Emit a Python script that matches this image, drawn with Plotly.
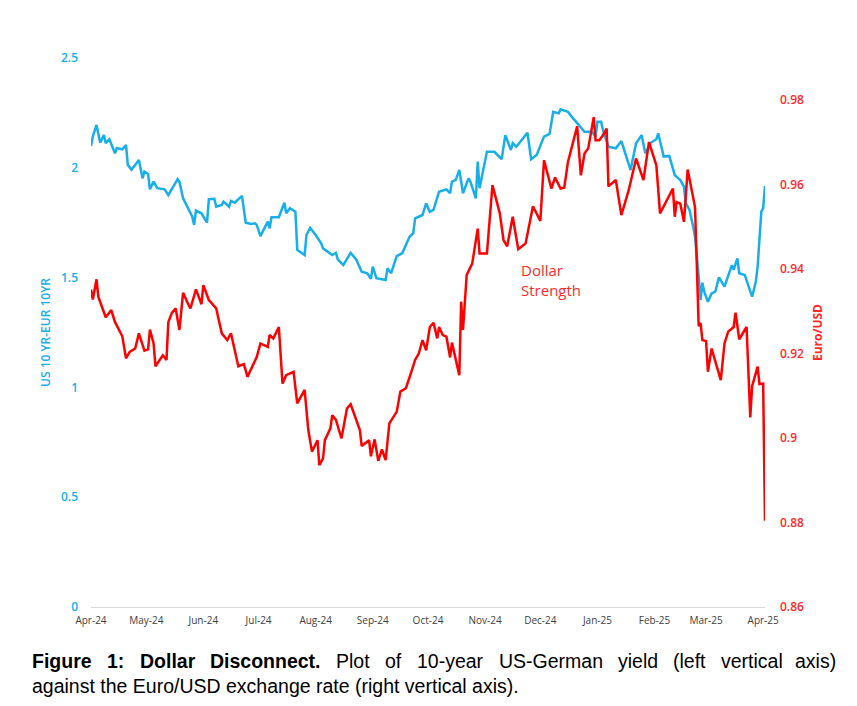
import plotly.graph_objects as go

# 10-year US minus German yield spread (left axis)
spread_dates = [
    "2024-04-01", "2024-04-02", "2024-04-04", "2024-04-06", "2024-04-08", "2024-04-09",
    "2024-04-11", "2024-04-14", "2024-04-15", "2024-04-18", "2024-04-20", "2024-04-21",
    "2024-04-23", "2024-04-27", "2024-04-29", "2024-04-30", "2024-05-02", "2024-05-03",
    "2024-05-05", "2024-05-07", "2024-05-11", "2024-05-13", "2024-05-18", "2024-05-19",
    "2024-05-21", "2024-05-24", "2024-05-26", "2024-05-27", "2024-05-28", "2024-05-31",
    "2024-06-03", "2024-06-04", "2024-06-07", "2024-06-08", "2024-06-11", "2024-06-12",
    "2024-06-15", "2024-06-16", "2024-06-18", "2024-06-22", "2024-06-24", "2024-06-27",
    "2024-06-29", "2024-06-30", "2024-07-02", "2024-07-06", "2024-07-07", "2024-07-08",
    "2024-07-12", "2024-07-15", "2024-07-16", "2024-07-18", "2024-07-21", "2024-07-22",
    "2024-07-26", "2024-07-27", "2024-07-29", "2024-08-01", "2024-08-04", "2024-08-05",
    "2024-08-10", "2024-08-12", "2024-08-13", "2024-08-16", "2024-08-20", "2024-08-23",
    "2024-08-26", "2024-08-29", "2024-08-31", "2024-09-01", "2024-09-03", "2024-09-08",
    "2024-09-09", "2024-09-11", "2024-09-14", "2024-09-17", "2024-09-21", "2024-09-23",
    "2024-09-24", "2024-09-28", "2024-09-30", "2024-10-02", "2024-10-04", "2024-10-07",
    "2024-10-11", "2024-10-13", "2024-10-14", "2024-10-16", "2024-10-18", "2024-10-20",
    "2024-10-23", "2024-10-24", "2024-10-27", "2024-10-28", "2024-10-29", "2024-11-02",
    "2024-11-06", "2024-11-10", "2024-11-12", "2024-11-15", "2024-11-16", "2024-11-18",
    "2024-11-24", "2024-11-26", "2024-11-29", "2024-12-03", "2024-12-06", "2024-12-08",
    "2024-12-11", "2024-12-12", "2024-12-16", "2024-12-18", "2024-12-21", "2024-12-25",
    "2024-12-29", "2024-12-31", "2025-01-01", "2025-01-03", "2025-01-04", "2025-01-07",
    "2025-01-11", "2025-01-14", "2025-01-19", "2025-01-22", "2025-01-25", "2025-01-27",
    "2025-01-30", "2025-02-02", "2025-02-03", "2025-02-06", "2025-02-09", "2025-02-12",
    "2025-02-15", "2025-02-17", "2025-02-18", "2025-02-20", "2025-02-22", "2025-02-23",
    "2025-02-25", "2025-02-26", "2025-02-27", "2025-02-28", "2025-03-02", "2025-03-04",
    "2025-03-06", "2025-03-08", "2025-03-11", "2025-03-15", "2025-03-16", "2025-03-18",
    "2025-03-19", "2025-03-22", "2025-03-26", "2025-03-28", "2025-03-29", "2025-03-31",
    "2025-04-01", "2025-04-02",
]
spread = [
    2.099, 2.142, 2.195, 2.114, 2.149, 2.112,
    2.130, 2.066, 2.089, 2.084, 2.104, 2.013,
    1.991, 2.036, 1.952, 1.982, 1.972, 1.902,
    1.937, 1.907, 1.902, 1.876, 1.948, 1.937,
    1.861, 1.808, 1.777, 1.740, 1.805, 1.793,
    1.750, 1.857, 1.859, 1.823, 1.831, 1.846,
    1.823, 1.849, 1.841, 1.872, 1.750, 1.744,
    1.747, 1.740, 1.689, 1.755, 1.724, 1.775,
    1.775, 1.841, 1.793, 1.816, 1.800, 1.626,
    1.603, 1.694, 1.727, 1.694, 1.656, 1.633,
    1.603, 1.613, 1.583, 1.557, 1.613, 1.583,
    1.527, 1.520, 1.494, 1.550, 1.497, 1.489,
    1.542, 1.520, 1.598, 1.611, 1.686, 1.702,
    1.770, 1.785, 1.838, 1.800, 1.808, 1.891,
    1.902, 1.884, 1.937, 1.944, 1.990, 1.884,
    1.952, 1.937, 1.861, 2.028, 1.907, 2.073,
    2.073, 2.039, 2.149, 2.081, 2.112, 2.096,
    2.160, 2.039, 2.058, 2.142, 2.154, 2.255,
    2.248, 2.266, 2.255, 2.233, 2.203, 2.164,
    2.164, 2.142, 2.210, 2.210, 2.172, 2.096,
    2.089, 2.122, 1.990, 2.112, 2.149, 2.066,
    2.114, 2.130, 2.157, 2.051, 2.054, 1.967,
    1.944, 1.914, 1.838, 1.808, 1.732, 1.686,
    1.504, 1.398, 1.477, 1.436, 1.390, 1.428,
    1.436, 1.501, 1.459, 1.557, 1.535, 1.588,
    1.520, 1.512, 1.413, 1.481, 1.550, 1.800,
    1.816, 1.917,
]

# Euro/USD rate (right axis)
fx_dates = [
    "2024-04-01", "2024-04-02", "2024-04-04", "2024-04-05", "2024-04-09", "2024-04-12",
    "2024-04-14", "2024-04-17", "2024-04-18", "2024-04-20", "2024-04-22", "2024-04-25",
    "2024-04-27", "2024-04-30", "2024-05-02", "2024-05-03", "2024-05-05", "2024-05-06",
    "2024-05-10", "2024-05-12", "2024-05-13", "2024-05-15", "2024-05-17", "2024-05-19",
    "2024-05-21", "2024-05-24", "2024-05-25", "2024-05-28", "2024-05-31", "2024-06-01",
    "2024-06-04", "2024-06-08", "2024-06-11", "2024-06-14", "2024-06-16", "2024-06-20",
    "2024-06-23", "2024-06-25", "2024-06-29", "2024-06-30", "2024-07-02", "2024-07-06",
    "2024-07-07", "2024-07-09", "2024-07-12", "2024-07-14", "2024-07-16", "2024-07-20",
    "2024-07-22", "2024-07-26", "2024-07-28", "2024-07-30", "2024-08-02", "2024-08-03",
    "2024-08-05", "2024-08-06", "2024-08-09", "2024-08-10", "2024-08-12", "2024-08-15",
    "2024-08-18", "2024-08-20", "2024-08-25", "2024-08-26", "2024-08-30", "2024-08-31",
    "2024-09-02", "2024-09-04", "2024-09-06", "2024-09-08", "2024-09-10", "2024-09-14",
    "2024-09-16", "2024-09-19", "2024-09-21", "2024-09-24", "2024-09-26", "2024-09-28",
    "2024-09-30", "2024-10-02", "2024-10-04", "2024-10-06", "2024-10-07", "2024-10-09",
    "2024-10-11", "2024-10-13", "2024-10-14", "2024-10-18", "2024-10-19", "2024-10-20",
    "2024-10-22", "2024-10-25", "2024-10-28", "2024-10-29", "2024-11-02", "2024-11-05",
    "2024-11-09", "2024-11-11", "2024-11-13", "2024-11-16", "2024-11-19", "2024-11-23",
    "2024-11-27", "2024-12-01", "2024-12-03", "2024-12-07", "2024-12-09", "2024-12-12",
    "2024-12-14", "2024-12-16", "2024-12-21", "2024-12-23", "2024-12-25", "2024-12-27",
    "2024-12-30", "2024-12-31", "2025-01-02", "2025-01-04", "2025-01-06", "2025-01-07",
    "2025-01-11", "2025-01-14", "2025-01-18", "2025-01-22", "2025-01-26", "2025-01-29",
    "2025-02-02", "2025-02-04", "2025-02-11", "2025-02-12", "2025-02-13", "2025-02-15",
    "2025-02-17", "2025-02-19", "2025-02-23", "2025-02-25", "2025-02-26", "2025-02-27",
    "2025-03-01", "2025-03-02", "2025-03-04", "2025-03-09", "2025-03-11", "2025-03-13",
    "2025-03-16", "2025-03-17", "2025-03-19", "2025-03-23", "2025-03-25", "2025-03-26",
    "2025-03-29", "2025-03-30", "2025-04-01", "2025-04-02",
]
fx = [
    0.9352, 0.9328, 0.9376, 0.9334, 0.9286, 0.9303,
    0.9275, 0.9252, 0.9241, 0.9189, 0.9204, 0.9212,
    0.9248, 0.9207, 0.9210, 0.9257, 0.9224, 0.9170,
    0.9196, 0.9185, 0.9275, 0.9297, 0.9307, 0.9256,
    0.9344, 0.9315, 0.9307, 0.9352, 0.9317, 0.9362,
    0.9327, 0.9307, 0.9248, 0.9232, 0.9248, 0.9170,
    0.9175, 0.9145, 0.9185, 0.9192, 0.9224, 0.9216,
    0.9244, 0.9236, 0.9263, 0.9129, 0.9149, 0.9157,
    0.9082, 0.9114, 0.9019, 0.8968, 0.8995, 0.8936,
    0.8952, 0.8995, 0.9023, 0.9054, 0.9043, 0.8999,
    0.9070, 0.9080, 0.9019, 0.8981, 0.8995, 0.8957,
    0.8997, 0.8946, 0.8973, 0.8948, 0.9035, 0.9062,
    0.9110, 0.9118, 0.9144, 0.9185, 0.9200, 0.9232,
    0.9208, 0.9263, 0.9273, 0.9236, 0.9263, 0.9244,
    0.9240, 0.9191, 0.9226, 0.9149, 0.9323, 0.9256,
    0.9386, 0.9413, 0.9496, 0.9437, 0.9437, 0.9599,
    0.9532, 0.9469, 0.9454, 0.9524, 0.9447, 0.9461,
    0.9549, 0.9514, 0.9658, 0.9591, 0.9617, 0.9591,
    0.9593, 0.9654, 0.9738, 0.9622, 0.9674, 0.9686,
    0.9760, 0.9705, 0.9705, 0.9717, 0.9733, 0.9596,
    0.9611, 0.9528, 0.9587, 0.9662, 0.9611, 0.9701,
    0.9646, 0.9532, 0.9591, 0.9524, 0.9559, 0.9555,
    0.9512, 0.9636, 0.9547, 0.9265, 0.9273, 0.9232,
    0.9230, 0.9157, 0.9212, 0.9137, 0.9224, 0.9252,
    0.9263, 0.9297, 0.9234, 0.9263, 0.9049, 0.9123,
    0.9169, 0.9128, 0.9129, 0.8804,
]

month_ticks = [
    "2024-04-01", "2024-05-01", "2024-06-01", "2024-07-01", "2024-08-01",
    "2024-09-01", "2024-10-01", "2024-11-01", "2024-12-01", "2025-01-01",
    "2025-02-01", "2025-03-01", "2025-04-01",
]
month_labels = [
    "Apr-24", "May-24", "Jun-24", "Jul-24", "Aug-24", "Sep-24", "Oct-24",
    "Nov-24", "Dec-24", "Jan-25", "Feb-25", "Mar-25", "Apr-25",
]

BLUE = "#17AEEA"
RED = "#FF0000"
RED_TEXT = "#FF2A2A"
TICK_FONT = "Open Sans, Noto Sans, sans-serif"
CAPTION_FONT = "Liberation Sans, Arial, sans-serif"

fig = go.Figure()
fig.add_trace(go.Scatter(x=spread_dates, y=spread, mode="lines",
                         line=dict(color=BLUE, width=2.5), name="US-EUR 10YR"))
fig.add_trace(go.Scatter(x=fx_dates, y=fx, mode="lines", yaxis="y2",
                         line=dict(color=RED, width=2.5), name="Euro/USD"))

# plot area in pixels: left 91, right 765, top 58, bottom 607
L, R, T, B = 91, 765, 58, 607


def px(x):
    return (x - L) / (R - L)


def py(y):
    return (B - y) / (B - T)


annotations = [
    dict(text="Dollar<br>Strength", x=px(519), y=py(280), xref="paper", yref="paper",
         xanchor="left", yanchor="middle", align="left", showarrow=False,
         font=dict(family=TICK_FONT, size=15, color=RED_TEXT)),
]

# caption: first line is justified in the original, so words are placed one by one
caption_words = ["<b>Figure</b>", "<b>1:</b>", "<b>Dollar</b>", "<b>Disconnect.</b>",
                 "Plot", "of", "10-year", "US-German", "yield", "(left", "vertical"]
caption_x = [30, 105, 137.7, 208.4, 334.3, 383.3, 415, 496.5, 615.9, 671.4, 719.3]
cap_font = dict(family=CAPTION_FONT, size=19.5, color="#000000")
for word, wx in zip(caption_words, caption_x):
    annotations.append(dict(text=word, x=px(wx), y=py(661), xref="paper", yref="paper",
                            xanchor="left", yanchor="middle", showarrow=False, font=cap_font))
annotations.append(dict(text="axis)", x=px(838), y=py(661), xref="paper", yref="paper",
                        xanchor="right", yanchor="middle", showarrow=False, font=cap_font))
annotations.append(dict(text="against the Euro/USD exchange rate (right vertical axis).",
                        x=px(30), y=py(686), xref="paper", yref="paper",
                        xanchor="left", yanchor="middle", showarrow=False, font=cap_font))

fig.update_layout(
    width=857, height=706,
    margin=dict(l=L, r=857 - R, t=T, b=706 - B),
    paper_bgcolor="white", plot_bgcolor="white",
    showlegend=False,
    xaxis=dict(
        type="date", range=["2024-04-01", "2025-04-02"],
        tickvals=month_ticks, ticktext=month_labels,
        tickfont=dict(family=TICK_FONT, size=10, color="#404040"),
        showgrid=False, zeroline=False, showline=True, linecolor="#D9D9D9", linewidth=1,
        ticks="", ticklabelstandoff=4,
    ),
    yaxis=dict(
        range=[0, 2.5], dtick=0.5,
        tickfont=dict(family=TICK_FONT, size=12, color=BLUE, weight=600),
        title=dict(text="US 10 YR-EUR 10YR", standoff=7,
                   font=dict(family=TICK_FONT, size=12, color=BLUE, weight=600)),
        showgrid=False, zeroline=False, showline=False, ticks="", ticklabelstandoff=12,
    ),
    yaxis2=dict(
        range=[0.86, 0.99], tick0=0.86, dtick=0.02, overlaying="y", side="right",
        tickfont=dict(family=TICK_FONT, size=12, color=RED_TEXT, weight=600),
        title=dict(text="Euro/USD", standoff=10,
                   font=dict(family=TICK_FONT, size=12, color=RED_TEXT, weight=700)),
        showgrid=False, zeroline=False, showline=False, ticks="", ticklabelstandoff=14,
    ),
    annotations=annotations,
)

fig.write_html("out.html", config={"displayModeBar": False},
               post_script="document.body.style.margin='0';")
